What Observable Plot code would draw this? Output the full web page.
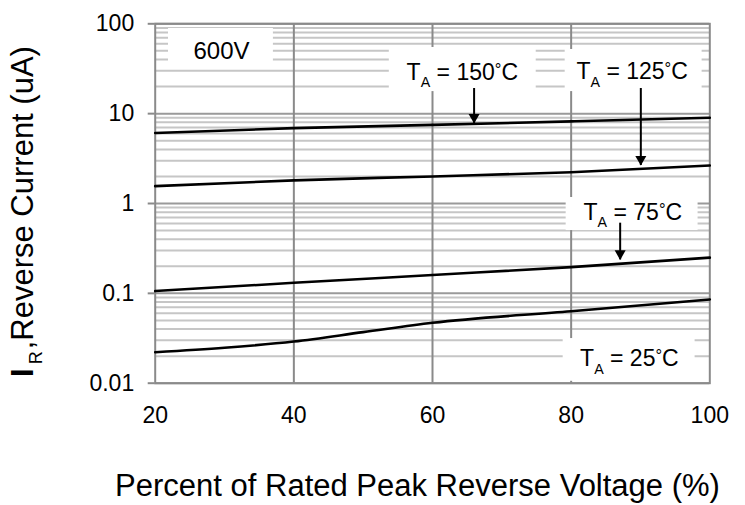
<!DOCTYPE html>
<html><head><meta charset="utf-8">
<script src="https://cdn.jsdelivr.net/npm/d3@7"></script>
<script src="https://cdn.jsdelivr.net/npm/@observablehq/plot@0.6"></script>
<style>
body{margin:0;background:#fff;}
#chart svg{font-family:"Liberation Sans",Arial,Helvetica,sans-serif;}
#chart g[aria-label="y-axis tick"]{stroke:#8a8a8a;stroke-width:2;}
</style></head><body><div id="chart"></div>
<script>
// ---- data ----
const voltage = [20, 40, 60, 80, 100];
const ir150 = [6.1, 6.9, 7.5, 8.2, 9.0];
const ir125 = [1.56, 1.81, 2.0, 2.23, 2.65];
const ir75 = [0.106, 0.131, 0.16, 0.196, 0.25];
const voltage25 = [20, 30, 40, 50, 60, 80, 100];
const ir25 = [0.0221, 0.0248, 0.0291, 0.037, 0.047, 0.0633, 0.0855];

const xTicks = [20, 40, 60, 80, 100];
const xGrid = [40, 60, 80];
const yTicks = [0.01, 0.1, 1, 10, 100];
const yTickLabels = ["0.01", "0.1", "1", "10", "100"];

const xTitle = "Percent of Rated Peak Reverse Voltage (%)";
const yTitle = "I_R,Reverse Current (uA)";

// annotation labels (data coordinates)
const labelTexts = ["600V", "T_A = 150°C", "T_A = 125°C", "T_A = 75°C", "T_A = 25°C"];
const labelX = [29.56, 64.3, 88.8, 88.9, 88.4];
const labelY = [49.8, 28.9, 29.1, 0.80, 0.0188];
const boxX1 = [21.92, 53.77, 79.14, 79.28, 78.85];
const boxX2 = [37.05, 74.96, 98.89, 98.31, 97.88];
const boxY1 = [88.7, 54.5, 51.8, 1.166, 0.0314];
const boxY2 = [38.0, 17.6, 17.6, 0.5, 0.0105];

// arrows (data coordinates)
const arrowX = [66.0, 90.05, 87.07];
const arrowFrom = [19.05, 19.05, 0.604];
const arrowTo = [7.77, 2.65, 0.236];

// ---- build tables ----
const rows = [];
voltage.forEach((v, i) => rows.push({v, ir: ir150[i], s: "150"}));
voltage.forEach((v, i) => rows.push({v, ir: ir125[i], s: "125"}));
voltage.forEach((v, i) => rows.push({v, ir: ir75[i], s: "75"}));
voltage25.forEach((v, i) => rows.push({v, ir: ir25[i], s: "25"}));

const labels = labelTexts.map((t, i) => ({t, x: labelX[i], y: labelY[i], x1: boxX1[i], x2: boxX2[i], y1: boxY1[i], y2: boxY2[i]}));
const arrows = arrowX.map((x, i) => ({x, y1: arrowFrom[i], y2: arrowTo[i]}));

const minor = [];
for (const d of [0.01, 0.1, 1, 10]) for (let k = 2; k <= 9; k++) minor.push(+(k * d).toPrecision(3));
const tickLabel = new Map(yTicks.map((t, i) => [t, yTickLabels[i]]));

const chart = Plot.plot({
  width: 745,
  height: 505,
  marginLeft: 154.7,
  marginRight: 35.7,
  marginTop: 23.3,
  marginBottom: 122.3,
  style: {fontSize: "23px", fontFamily: "'Liberation Sans', Arial, Helvetica, sans-serif", color: "black", background: "white"},
  x: {domain: [20, 100], ticks: xTicks, tickSize: 0, tickPadding: 23, label: null},
  y: {type: "log", domain: [0.01, 100], ticks: yTicks, tickFormat: d => tickLabel.get(d), tickSize: 7, tickPadding: 14, label: null},
  marks: [
    Plot.ruleY(minor, {stroke: "#c6c6c6", strokeWidth: 2}),
    Plot.ruleY(yTicks, {stroke: "#9a9a9a", strokeWidth: 2}),
    Plot.ruleX(xGrid, {stroke: "#8a8a8a", strokeWidth: 2}),
    Plot.frame({stroke: "#8a8a8a", strokeWidth: 2}),
    Plot.line(rows, {x: "v", y: "ir", z: "s", stroke: "black", strokeWidth: 2.6, curve: "monotone-x"}),
    Plot.rect(labels, {x1: "x1", x2: "x2", y1: "y1", y2: "y2", fill: "white"}),
    Plot.text(labels, {x: "x", y: "y", text: "t", fontSize: d => d.t === "600V" ? 24 : 23, textAnchor: "middle", lineAnchor: "middle", fill: "black"}),
    Plot.ruleX(arrows, {x: "x", y1: "y1", y2: "y2", stroke: "black", strokeWidth: 2}),
    Plot.dot(arrows, {x: "x", y: "y2", symbol: "triangle", r: 4.1, rotate: 180, fill: "black", stroke: null, dy: -6.3}),
    Plot.text([xTitle], {text: d => d, frameAnchor: "bottom", dx: -15, dy: 113, fontSize: 31, textAnchor: "middle", fill: "black"}),
    Plot.text([yTitle], {text: d => d, frameAnchor: "left", rotate: -90, dx: -132, dy: 8, fontSize: 31, textAnchor: "middle", fill: "black"})
  ]
});

document.getElementById("chart").append(chart);

// subscripts "X_Yrest" and small raised degree signs
d3.select(chart).selectAll("text").each(function () {
  const el = this;
  const s = el.textContent;
  const m = /^(.*?)_(\w)(.*)$/.exec(s);
  if (!m) return;
  const fs = parseFloat(getComputedStyle(el).fontSize) || 22;
  const isTitle = fs > 26;
  const subSize = fs * (isTitle ? 0.58 : 0.62);
  const shift = fs * (isTitle ? 0.3 : 0.33);
  el.textContent = "";
  const sel = d3.select(el);
  const first = sel.append("tspan").text(m[1]);
  if (isTitle) first.attr("font-weight", "bold");
  sel.append("tspan").attr("dy", shift).attr("dx", isTitle ? 4 : 0).attr("font-size", subSize).text(m[2]);
  const rest = m[3];
  const k = rest.indexOf("°");
  if (k < 0) {
    sel.append("tspan").attr("dy", -shift).attr("dx", isTitle ? 2 : 0).text(rest);
  } else {
    const up = fs * 0.22;
    sel.append("tspan").attr("dy", -shift).text(rest.slice(0, k));
    sel.append("tspan").attr("dy", -up).attr("font-size", fs * 0.72).text("°");
    sel.append("tspan").attr("dy", up).text(rest.slice(k + 1));
  }
});
</script></body></html>
